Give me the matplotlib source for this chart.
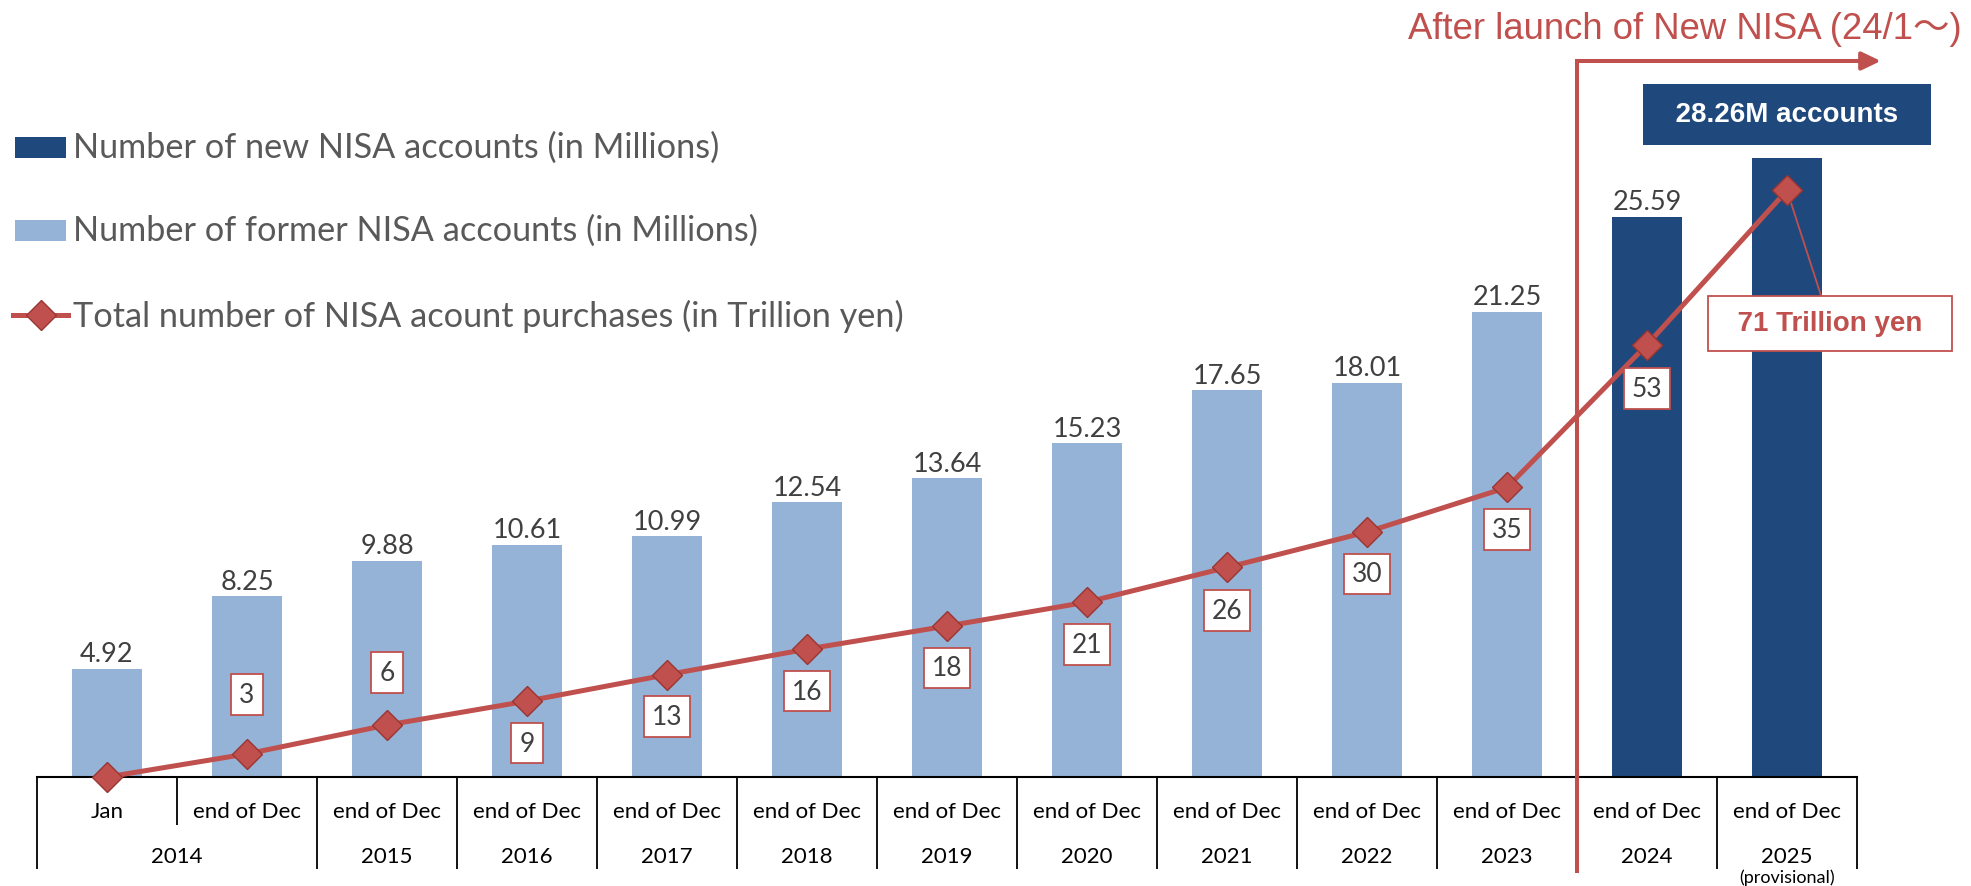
import matplotlib
matplotlib.use('Agg')
import matplotlib.pyplot as plt
import matplotlib.transforms as mtransforms
from matplotlib.patches import Rectangle
from matplotlib.lines import Line2D

# chart data
periods = ['Jan', 'end of Dec', 'end of Dec', 'end of Dec', 'end of Dec', 'end of Dec', 'end of Dec',
           'end of Dec', 'end of Dec', 'end of Dec', 'end of Dec', 'end of Dec', 'end of Dec']
years = ['2014', '2015', '2016', '2017', '2018', '2019', '2020', '2021', '2022', '2023', '2024', '2025']
former_accounts = [4.92, 8.25, 9.88, 10.61, 10.99, 12.54, 13.64, 15.23, 17.65, 18.01, 21.25]
new_accounts = [25.59, 28.26]
purchases = [0, 2.8, 6.3, 9.2, 12.4, 15.5, 18.3, 21.2, 25.4, 29.7, 35.1, 52.4, 71.1]
purchase_labels = ['', '3', '6', '9', '13', '16', '18', '21', '26', '30', '35', '53', '']

RED = '#C0504D'
LIGHT = '#95B3D7'
DARK = '#1F497D'
CAL = 'Lato'
ARIAL = ['Liberation Sans', 'Noto Sans CJK JP']

W, H = 1971, 887
fig = plt.figure(figsize=(W / 100, H / 100), dpi=100)
ax = fig.add_axes([37 / W, (H - 778) / H, 1820 / W, 778 / H])
ax2 = ax.twinx()

n_old = len(former_accounts)
x_old = list(range(n_old))
x_new = list(range(n_old, n_old + len(new_accounts)))

b_old = ax.bar(x_old, former_accounts, width=0.5, color=LIGHT, zorder=2)
b_new = ax.bar(x_new, new_accounts, width=0.5, color=DARK, zorder=2)
ax.bar_label(b_old, fmt='%.2f', padding=2, fontsize=19.5, family=CAL, color='#404040')
ax.bar_label(b_new, labels=['%.2f' % new_accounts[0], ''], padding=2, fontsize=19.5, family=CAL,
             color='#404040')

ax.set_xlim(-0.5, len(periods) - 0.5)
ax.set_ylim(0, 778 / 21.9)
ax2.set_ylim(0, 778 / 8.25)

# line of purchases
xs = list(range(len(purchases)))
ax2.plot(xs, purchases, color=RED, lw=3.6, marker='D', ms=15.5, mfc=RED, mec='#9B3532', mew=1,
         zorder=5, clip_on=False)

# value boxes
offsets = [0, 42.5, 38, -30.2, -30.2, -30.2, -30.2, -30.5, -31, -30.2, -30, -31.7, 0]
for x, v, lab, off in zip(xs, purchases, purchase_labels, offsets):
    if not lab:
        continue
    ax2.annotate(lab, (x, v), xytext=(0, off), textcoords='offset points',
                 ha='center', va='center', fontsize=19, family=CAL, color='#404040', zorder=6,
                 bbox=dict(boxstyle='square,pad=0.3', fc='white', ec=RED, lw=1.3))

ax2.annotate('  %d Trillion yen  ' % round(purchases[-1]), (xs[-1], purchases[-1]), xytext=(31, -95.8),
             textcoords='offset points', ha='center', va='center', fontsize=20, fontweight='bold',
             family=ARIAL, color=RED, zorder=4,
             bbox=dict(boxstyle='square,pad=0.52', fc='white', ec=RED, lw=1.3),
             arrowprops=dict(arrowstyle='-', color=RED, lw=1.3, shrinkA=0, shrinkB=0))

# box above the 2025 bar
bt = mtransforms.blended_transform_factory(ax.transData, ax.transAxes)
ax.text(x_new[-1], (778 - 115.5) / 778, '  %.2fM accounts  ' % new_accounts[-1], transform=bt,
        ha='center', va='center', fontsize=20, fontweight='bold', family=ARIAL, color='white',
        bbox=dict(boxstyle='square,pad=0.62', fc=DARK, ec='none'))

# axis as a table
for s in ['left', 'right', 'top']:
    ax.spines[s].set_visible(False)
    ax2.spines[s].set_visible(False)
ax2.spines['bottom'].set_visible(False)
ax.spines['bottom'].set_linewidth(1.5)
ax.set_yticks([])
ax2.set_yticks([])
edges = [i - 0.5 for i in range(len(periods) + 1) if i != 1]
ax.set_xticks(edges)
ax.set_xticks([0.5], minor=True)
ax.tick_params(axis='x', which='major', length=66.2, width=1.3, direction='out', labelbottom=False)
ax.tick_params(axis='x', which='minor', length=34.6, width=1.3, direction='out', labelbottom=False)

for i, p in enumerate(periods):
    ax.annotate(p, (i, 0), xycoords=bt, xytext=(0, -24.5), textcoords='offset points',
                ha='center', va='center', fontsize=16, family=CAL, color='black')
year_pos = [0.5] + list(range(2, len(periods)))
for xp, y in zip(year_pos, years):
    ax.annotate(y, (xp, 0), xycoords=bt, xytext=(0, -57), textcoords='offset points',
                ha='center', va='center', fontsize=16, family=CAL, color='black')
ax.annotate('(provisional)', (year_pos[-1], 0), xycoords=bt, xytext=(0, -72), textcoords='offset points',
            ha='center', va='center', fontsize=13, family=CAL, color='black', annotation_clip=False)

# new NISA marker line and arrow
split = n_old - 0.5
top = (778 - 62) / 778
ax.plot([split, split], [-94 / 778, top], transform=bt, color=RED, lw=2.9, clip_on=False,
        solid_capstyle='projecting', zorder=7)
ax.annotate('', xy=(12.67, top), xycoords=bt, xytext=(split, top), textcoords=bt,
            arrowprops=dict(arrowstyle='-|>,head_length=1.15,head_width=0.55', color=RED, lw=2.9,
                            shrinkA=0, shrinkB=0, mutation_scale=10), zorder=7)
fig.text(1962 / W, 1 - 39 / H, 'After launch of New NISA (24/1～)', ha='right', va='baseline',
         fontsize=26.3, family=ARIAL, color=RED)

# legend
def fx(x):
    return x / W


def fy(y):
    return 1 - y / H


fig.patches.append(Rectangle((fx(15), fy(159)), 51 / W, 21 / H, transform=fig.transFigure,
                             fc=DARK, ec='none'))
fig.patches.append(Rectangle((fx(15), fy(242)), 51 / W, 21 / H, transform=fig.transFigure,
                             fc=LIGHT, ec='none'))
fig.lines.append(Line2D([fx(13), fx(68)], [fy(316), fy(316)], transform=fig.transFigure,
                        color=RED, lw=3.6))
fig.lines.append(Line2D([fx(41)], [fy(316)], transform=fig.transFigure, marker='D', ms=15.5,
                        mfc=RED, mec='#9B3532', mew=1, lw=0))
legend_labels = ['Number of new NISA accounts (in Millions)',
                 'Number of former NISA accounts (in Millions)',
                 'Total number of NISA acount purchases (in Trillion yen)']
for lab, yy in zip(legend_labels, [148, 231, 316]):
    fig.text(fx(73), fy(yy), lab, ha='left', va='center', fontsize=24.7, family=CAL, color='#595959')

fig.savefig('out.png', dpi=100)
